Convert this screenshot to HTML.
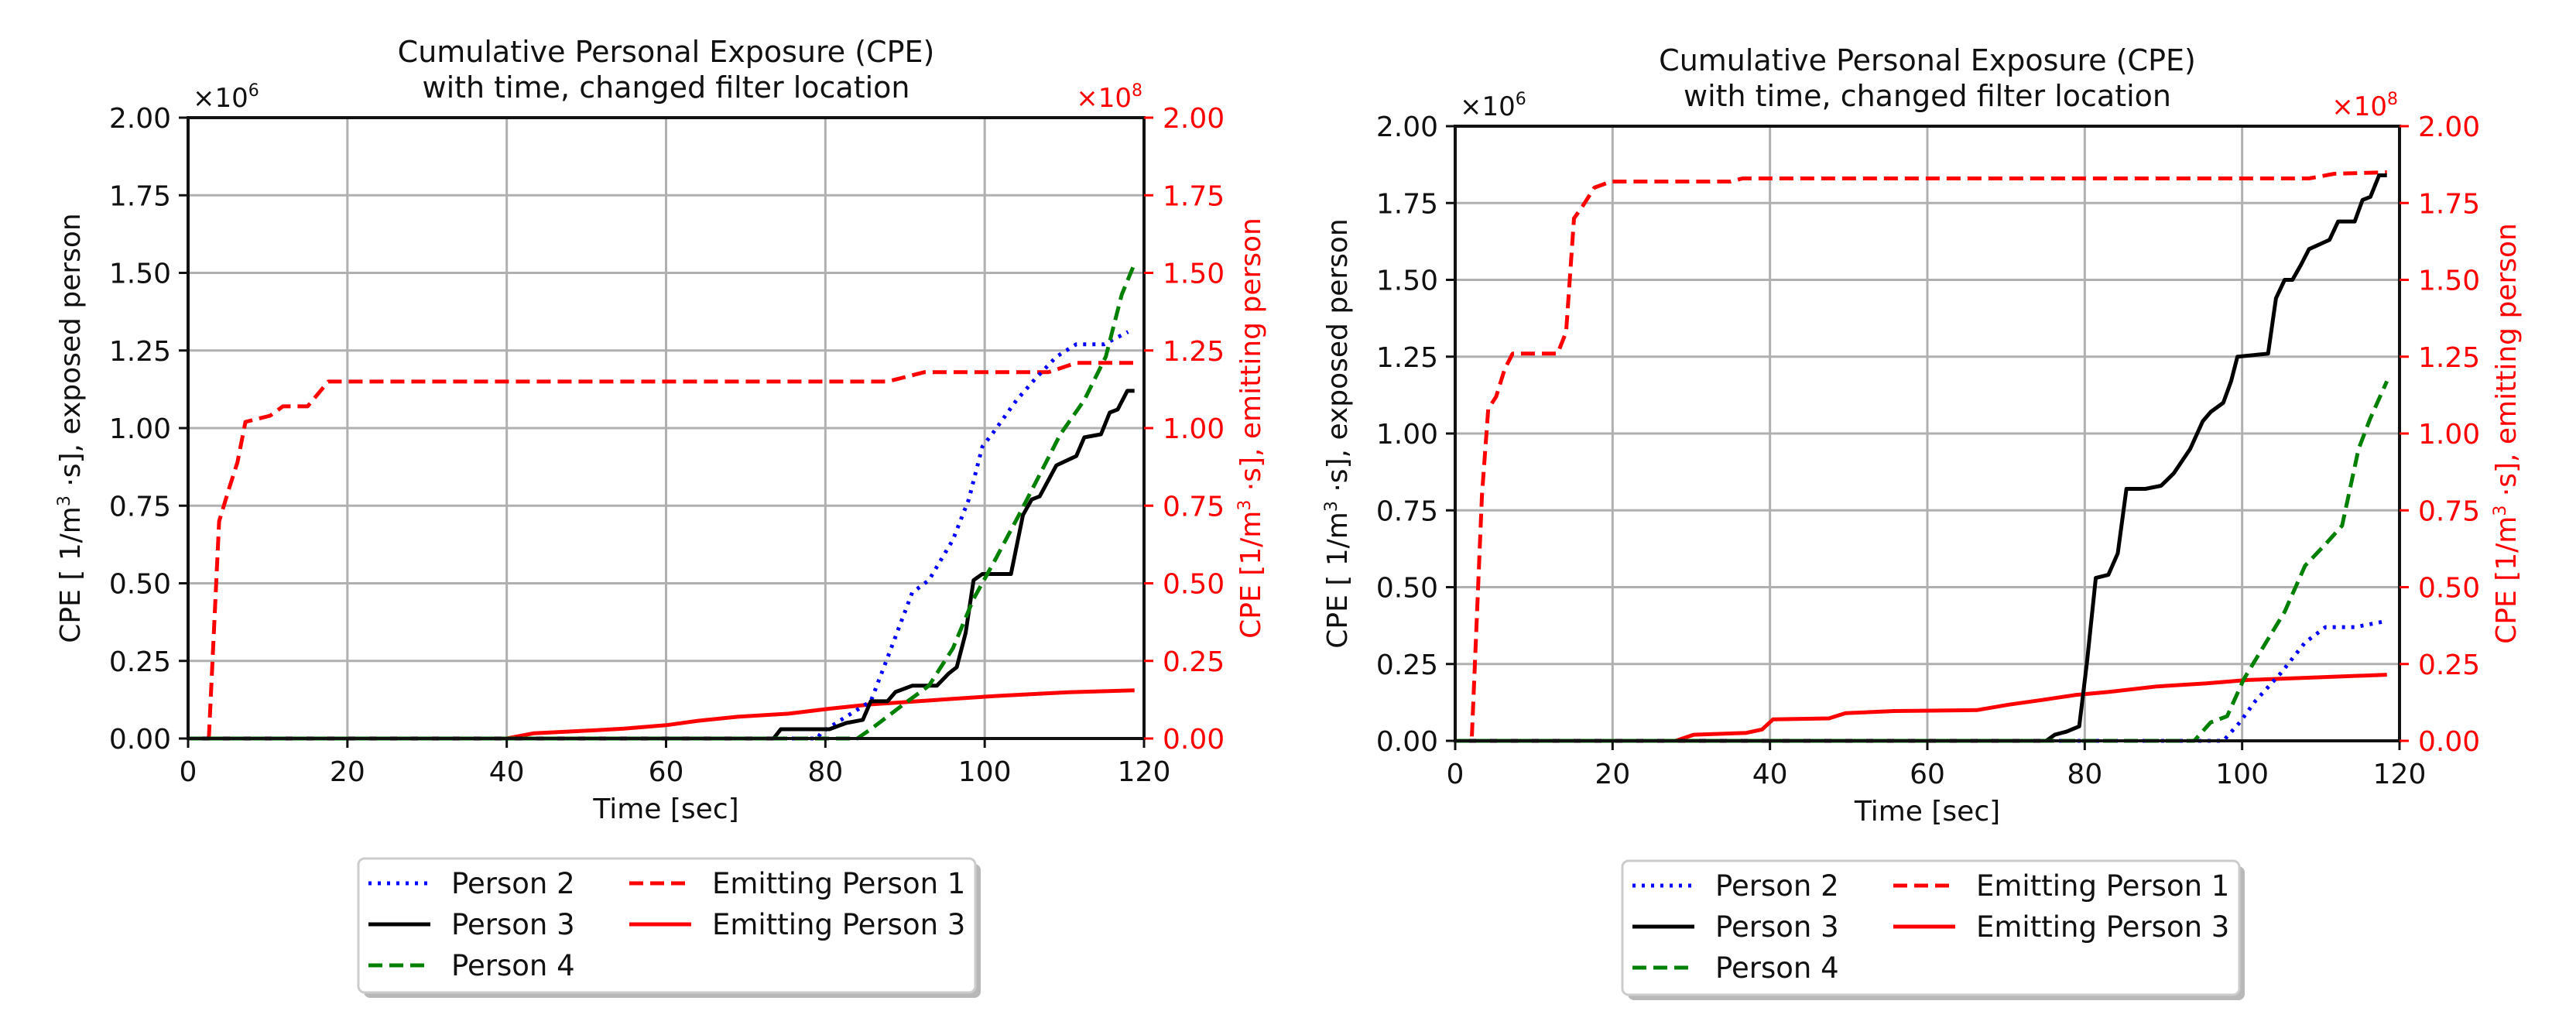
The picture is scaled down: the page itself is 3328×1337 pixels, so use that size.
<!DOCTYPE html>
<html><head><meta charset="utf-8">
<style>
html,body{margin:0;padding:0;background:#fff;}
svg{display:block;}
text{font-family:"DejaVu Sans","Liberation Sans",sans-serif;}
</style></head>
<body>
<svg id="chart" width="3328" height="1337" viewBox="0 0 3328 1337" xmlns="http://www.w3.org/2000/svg"></svg>
<script>
// ---- shared axes data ----
const xTicks = [0, 20, 40, 60, 80, 100, 120];
const yTicks = [0, 0.25, 0.5, 0.75, 1.0, 1.25, 1.5, 1.75, 2.0];
const yTickLabels = ["0.00","0.25","0.50","0.75","1.00","1.25","1.50","1.75","2.00"];
const legendLabels = ["Person 2","Person 3","Person 4","Emitting Person 1","Emitting Person 3"];

// ---- left chart data ----
const L_ep1_t = [0,2.6,3.9,5.2,6.2,7.2,10.3,11.9,15,17.6,87.8,92.4,108,111.5,118.8];
const L_ep1_v = [0,0,0.70,0.81,0.89,1.02,1.04,1.07,1.07,1.15,1.15,1.18,1.18,1.21,1.21];
const L_ep3_t = [0,40,43.4,50.6,54.7,60,64,69,75.4,80.5,85.7,89.8,96,102,110.5,118.8];
const L_ep3_v = [0,0,0.017,0.026,0.032,0.043,0.057,0.07,0.08,0.096,0.11,0.117,0.128,0.138,0.149,0.155];
const L_p2_t = [0,79,79.5,82.6,85.7,87.8,90.9,93,96,98,99.7,101.2,104,106.4,109,111.5,115,118];
const L_p2_v = [0,0,0.02,0.07,0.12,0.26,0.47,0.51,0.64,0.77,0.94,0.99,1.09,1.16,1.23,1.27,1.27,1.31];
const L_p3_t = [0,73.5,74.4,80.5,82.6,84.7,85.7,87.8,88.8,90.9,94,95.5,96.5,97.6,98.6,99.7,103.3,104.8,105.9,106.9,109,111.5,112.5,114.6,115.7,116.7,117.9,118.8];
const L_p3_v = [0,0,0.03,0.03,0.05,0.06,0.12,0.12,0.15,0.17,0.17,0.21,0.23,0.34,0.51,0.53,0.53,0.72,0.77,0.78,0.88,0.91,0.97,0.98,1.05,1.06,1.12,1.12];
const L_p4_t = [0,84,85.7,89.8,93,96,98.6,101.2,104.3,106.9,109.5,112.5,115.2,117.2,118.8];
const L_p4_v = [0,0,0.03,0.11,0.17,0.29,0.45,0.57,0.72,0.85,0.98,1.09,1.23,1.43,1.53];

// ---- right chart data ----
const R_ep1_t = [0,2.1,3.4,4.2,5.2,6.3,7.3,13,14.1,15.1,16.2,17.7,19.8,35,36.5,108.5,111.7,118.4];
const R_ep1_v = [0,0,0.80,1.08,1.12,1.21,1.26,1.26,1.33,1.70,1.74,1.80,1.82,1.82,1.83,1.83,1.845,1.85];
const R_ep3_t = [0,28,30.3,37,39,40.4,47.5,49.6,55.8,66.3,70.4,74.6,78.8,83,89.2,95.5,100.7,108,118.4];
const R_ep3_v = [0,0,0.02,0.026,0.037,0.07,0.073,0.09,0.097,0.10,0.118,0.133,0.149,0.159,0.177,0.187,0.198,0.205,0.215];
const R_p3_t = [0,75.1,76.2,77.7,79.3,80.3,81.4,83,84.2,85.3,87.7,89.7,91.3,93.4,95,96,97.6,98.6,99.4,103.3,104.3,105.4,106.4,107.5,108.5,111.1,112.2,114.3,115.3,116.3,117.4,118.4];
const R_p3_v = [0,0,0.02,0.03,0.047,0.26,0.53,0.54,0.61,0.82,0.82,0.83,0.87,0.95,1.04,1.07,1.10,1.17,1.25,1.26,1.44,1.50,1.50,1.55,1.60,1.63,1.69,1.69,1.76,1.77,1.84,1.84];
const R_p4_t = [0,93.9,96,98.1,100.2,102.8,105.4,108,110.6,112.7,114.8,116.3,118.4];
const R_p4_v = [0,0,0.06,0.08,0.20,0.31,0.42,0.57,0.64,0.70,0.95,1.05,1.17];
const R_p2_t = [0,97.6,99.7,101.7,104.9,108,110.6,114.3,118.4];
const R_p2_v = [0,0,0.06,0.13,0.22,0.32,0.37,0.37,0.39];

const NS = "http://www.w3.org/2000/svg";
const svg = document.getElementById('chart');
function mk(tag, attrs, parent) {
  const e = document.createElementNS(NS, tag);
  for (const k in attrs) e.setAttribute(k, attrs[k]);
  (parent || svg).appendChild(e);
  return e;
}

function drawChart(P, series, prefix) {
  const g = mk('g', {});
  
  
  const xS = t => P.x0 + (t / 120) * (P.x1 - P.x0);
  const yS = v => P.y1 - (v / 2) * (P.y1 - P.y0);
  xTicks.forEach(t => {
    const l = mk('line', {x1: xS(t), x2: xS(t), y1: P.y0, y2: P.y1, stroke: '#b0b0b0', 'stroke-width': 3}, g);
    
    
  });
  yTicks.forEach(v => {
    const l = mk('line', {x1: P.x0, x2: P.x1, y1: yS(v), y2: yS(v), stroke: '#b0b0b0', 'stroke-width': 3}, g);
    
    
  });
  series.forEach(s => {
    const d = s.t.map((t, i) => (i ? 'L' : 'M') + xS(t).toFixed(1) + ',' + yS(s.v[i]).toFixed(1)).join(' ');
    const p = mk('path', {d: d, fill: 'none', stroke: s.color, 'stroke-width': 5, 'stroke-dasharray': s.dash, 'stroke-linejoin': 'round'}, g);
    
    
  });
  const fr = mk('rect', {x: P.x0, y: P.y0, width: P.x1 - P.x0, height: P.y1 - P.y0, fill: 'none', stroke: '#111', 'stroke-width': 4}, g);
  
  
  xTicks.forEach(t => {
    mk('line', {x1: xS(t), x2: xS(t), y1: P.y1, y2: P.y1 + 12, stroke: '#111', 'stroke-width': 3}, g);
    const tx = mk('text', {x: xS(t), y: P.y1 + 55, 'font-size': 36, 'text-anchor': 'middle', fill: '#111'}, g);
    tx.textContent = t;
    
    
  });
  yTicks.forEach((v, i) => {
    mk('line', {x1: P.x0 - 12, x2: P.x0, y1: yS(v), y2: yS(v), stroke: '#111', 'stroke-width': 3}, g);
    const tl = mk('text', {x: P.x0 - 22, y: yS(v) + 13, 'font-size': 36, 'text-anchor': 'end', fill: '#111'}, g);
    tl.textContent = yTickLabels[i];
    
    
    mk('line', {x1: P.x1, x2: P.x1 + 12, y1: yS(v), y2: yS(v), stroke: '#ff0000', 'stroke-width': 3}, g);
    const tr = mk('text', {x: P.x1 + 24, y: yS(v) + 13, 'font-size': 36, fill: '#ff0000'}, g);
    tr.textContent = yTickLabels[i];
    
    
  });
  const m1 = mk('text', {x: P.x0 + 6, y: P.y0 - 14, 'font-size': 34, fill: '#111'}, g);
  m1.innerHTML = '×10<tspan dy="-14" font-size="22">6</tspan>';
  
  
  const m2 = mk('text', {x: P.x1 - 2, y: P.y0 - 14, 'font-size': 34, fill: '#ff0000', 'text-anchor': 'end'}, g);
  m2.innerHTML = '×10<tspan dy="-14" font-size="22">8</tspan>';
  
  
  const cx = (P.x0 + P.x1) / 2;
  const t1 = mk('text', {x: cx, y: P.y0 - 72, 'font-size': 38, 'text-anchor': 'middle', fill: '#111'}, g);
  t1.textContent = 'Cumulative Personal Exposure (CPE)';
  
  
  const t2 = mk('text', {x: cx, y: P.y0 - 26, 'font-size': 38, 'text-anchor': 'middle', fill: '#111'}, g);
  t2.textContent = 'with time, changed filter location';
  
  
  const xl = mk('text', {x: cx, y: P.y1 + 103, 'font-size': 36, 'text-anchor': 'middle', fill: '#111'}, g);
  xl.textContent = 'Time [sec]';
  
  
  const cy = (P.y0 + P.y1) / 2;
  const yl = mk('text', {x: 0, y: 0, 'font-size': 36, 'text-anchor': 'middle', fill: '#111', transform: `translate(${P.x0 - 140},${cy}) rotate(-90)`}, g);
  yl.innerHTML = 'CPE [ 1/m<tspan dy="-13" font-size="22">3</tspan><tspan dy="13"> ·s],  exposed person</tspan>';
  
  
  const yr = mk('text', {x: 0, y: 0, 'font-size': 36, 'text-anchor': 'middle', fill: '#ff0000', transform: `translate(${P.x1 + 150},${cy}) rotate(-90)`}, g);
  yr.innerHTML = 'CPE  [1/m<tspan dy="-13" font-size="22">3</tspan><tspan dy="13"> ·s], emitting person</tspan>';
  
  
  const L = P.leg;
  const lg = mk('g', {}, g);
  
  
  mk('rect', {x: L.x + 7, y: L.y + 7, width: L.w, height: L.h, rx: 8, fill: '#888', opacity: 0.6}, lg);
  mk('rect', {x: L.x, y: L.y, width: L.w, height: L.h, rx: 8, fill: '#fff', stroke: '#ccc', 'stroke-width': 3}, lg);
  const entries = [
    {c: 0, r: 0, s: series[2]}, {c: 0, r: 1, s: series[3]}, {c: 0, r: 2, s: series[4]},
    {c: 1, r: 0, s: series[0]}, {c: 1, r: 1, s: series[1]}
  ];
  entries.forEach((e, i) => {
    const hx = L.x + (e.c ? 350 : 13);
    const ry = L.y + 32 + e.r * 53;
    const eg = mk('g', {}, lg);
    
    
    mk('line', {x1: hx, x2: hx + 80, y1: ry, y2: ry, stroke: e.s.color, 'stroke-width': 5, 'stroke-dasharray': e.s.dash}, eg);
    const tt = mk('text', {x: hx + 107, y: ry + 13, 'font-size': 37, fill: '#111'}, eg);
    tt.textContent = legendLabels[i];
  });
}

function mkSeries(ep1t, ep1v, ep3t, ep3v, p2t, p2v, p3t, p3v, p4t, p4v) {
  return [
    {name: 'emitting-person-1-line', t: ep1t, v: ep1v, color: '#ff0000', dash: '18,9'},
    {name: 'emitting-person-3-line', t: ep3t, v: ep3v, color: '#ff0000', dash: 'none'},
    {name: 'person-2-line', t: p2t, v: p2v, color: '#0000ff', dash: '4,8'},
    {name: 'person-3-line', t: p3t, v: p3v, color: '#000000', dash: 'none'},
    {name: 'person-4-line', t: p4t, v: p4v, color: '#008000', dash: '18,9'}
  ];
}

drawChart({x0: 243, x1: 1478, y0: 152, y1: 954, leg: {x: 463, y: 1109, w: 797, h: 173}},
  mkSeries(L_ep1_t, L_ep1_v, L_ep3_t, L_ep3_v, L_p2_t, L_p2_v, L_p3_t, L_p3_v, L_p4_t, L_p4_v), 'left');
drawChart({x0: 1880, x1: 3100, y0: 163, y1: 957, leg: {x: 2096, y: 1112, w: 797, h: 173}},
  mkSeries(R_ep1_t, R_ep1_v, R_ep3_t, R_ep3_v, R_p2_t, R_p2_v, R_p3_t, R_p3_v, R_p4_t, R_p4_v), 'right');
</script>
</body></html>
